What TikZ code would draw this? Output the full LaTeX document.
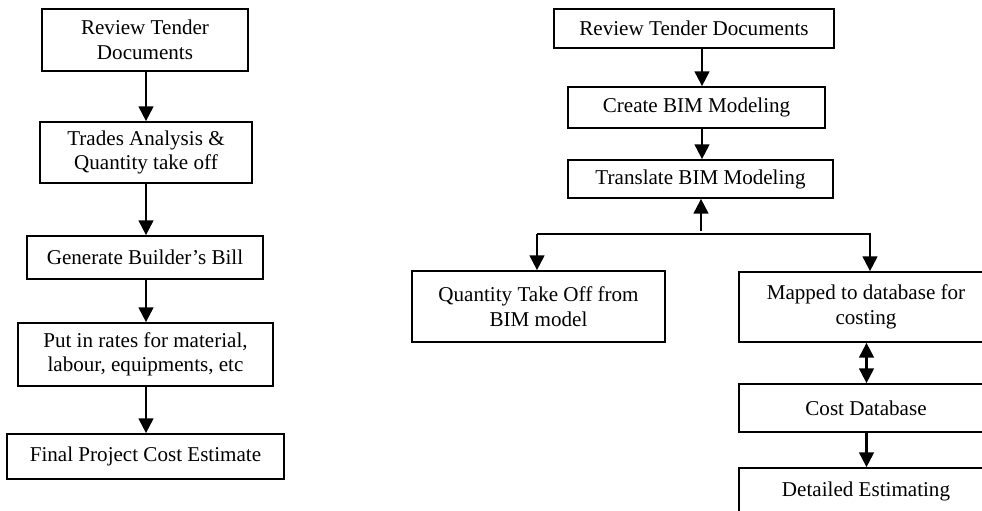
\documentclass[tikz,border=0pt]{standalone}
\usepackage{fontspec}
\setmainfont{Liberation Serif}
\usetikzlibrary{arrows.meta}
\tikzset{
  box/.style={draw, line width=0.9pt, align=center, inner sep=0pt,
    font=\fontsize{12}{14}\selectfont},
  arr/.style={line width=1.6pt, -{Triangle[length=8.5pt,width=8.3pt]}},
  arrboth/.style={line width=1.6pt, {Triangle[length=8.5pt,width=8.3pt]}-{Triangle[length=8.5pt,width=8.3pt]}},
}
\begin{document}
\begin{tikzpicture}[x=0.02cm, y=-0.02cm]
                \clip (0,0) rectangle (982,510);
                % traditional way
                \node[box, minimum width=4.12cm, minimum height=1.24cm] (rev1) at (145,40) {Review Tender\\Documents};
                \node[box, minimum width=4.24cm, minimum height=1.22cm] (trade) at (146,152.5) {Trades Analysis \&\\Quantity take off};
                \node[box, minimum width=4.72cm, minimum height=0.86cm] (bill) at (145,257.5) {Generate Builder’s Bill};
                \node[box, minimum width=5.10cm, minimum height=1.26cm] (rates) at (145.5,354.5) {Put in rates for material,\\labour, equipments, etc};
                \node[box, minimum width=5.54cm, minimum height=0.90cm] (final) at (145.5,456.5) {Final Project Cost Estimate};
                
                \coordinate (lft) at (146,0);
                \path [arr] (rev1.south -| lft) edge (trade.north -| lft)
                            (trade.south -| lft) edge (bill.north -| lft)
                            (bill.south -| lft) edge (rates.north -| lft)
                            (rates.south -| lft) edge (final.north -| lft)
                ;
                % BIM way
                \node[box, minimum width=5.60cm, minimum height=0.78cm] (rev2) at (694,28.5) {Review Tender Documents};
                \node[box, minimum width=5.14cm, minimum height=0.82cm] (create) at (696.5,107.5) {Create BIM Modeling};
                \node[box, minimum width=5.30cm, minimum height=0.76cm] (transl) at (700.5,179) {Translate BIM Modeling};
                \node[box, minimum width=5.06cm, minimum height=1.42cm] (qto) at (538.5,306.5) {Quantity Take Off from\\BIM model};
                \node[box, minimum width=5.08cm, minimum height=1.40cm] (mapped) at (866,307) {Mapped to database for\\costing};
                \node[box, minimum width=5.08cm, minimum height=0.96cm] (costdb) at (866,408) {Cost Database};
                \node[box, minimum width=5.08cm, minimum height=0.92cm] (detail) at (866,491) {Detailed Estimating};
                
                \coordinate (spine) at (702,0);
                \coordinate (up) at (701,231);
                \coordinate (jl) at (537,234);
                \coordinate (jr) at (870,234);
                \coordinate (rgt) at (866.5,0);
                \path [arr] (rev2.south -| spine) edge (create.north -| spine)
                            (create.south -| spine) edge (transl.north -| spine)
                            (up) edge (up |- transl.south)
                            (costdb.south -| rgt) edge (detail.north -| rgt)
                ;
                \draw[arr] (jl) -- (jl |- qto.north);
                \draw[arr, line join=miter] (jl) -- (jr) -- (jr |- mapped.north);
                \draw[arrboth] (mapped.south -| rgt) -- (costdb.north -| rgt);
            \end{tikzpicture}
\end{document}
